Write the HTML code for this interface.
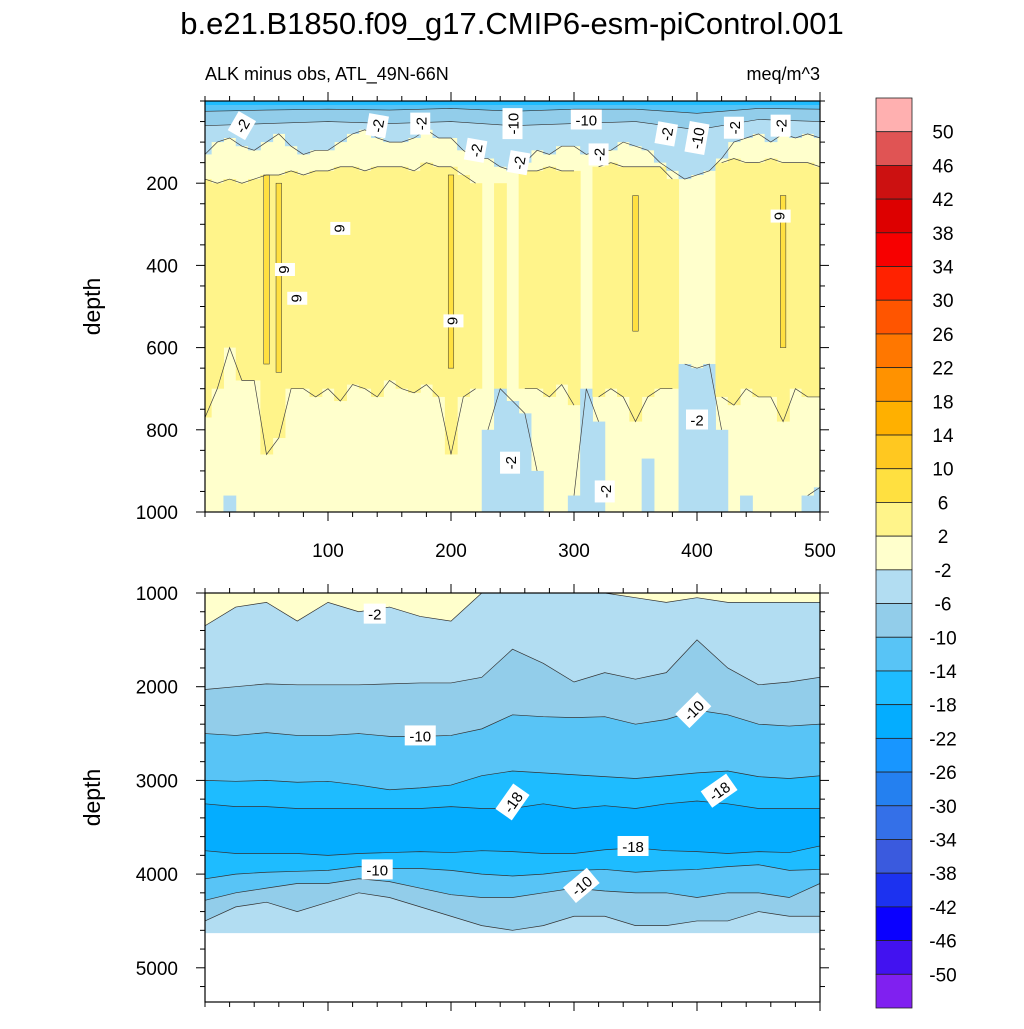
<!DOCTYPE html>
<html><head><meta charset="utf-8">
<style>
html,body{margin:0;padding:0;background:#fff;}
svg text{font-family:"Liberation Sans",Arial,sans-serif;fill:#000;}
</style></head>
<body>
<svg id="chart" width="1024" height="1024" viewBox="0 0 1024 1024" xmlns="http://www.w3.org/2000/svg">
<text x="512" y="34" font-size="31" text-anchor="middle">b.e21.B1850.f09_g17.CMIP6-esm-piControl.001</text>
<text x="205" y="80" font-size="18">ALK minus obs, ATL_49N-66N</text>
<text x="820" y="80" font-size="18" text-anchor="end">meq/m^3</text>
<g id="topPanel"></g>
<g id="botPanel"></g>
<g id="cbar"></g>
</svg>
<script>
// ---- data ----
const levels = [50,46,42,38,34,30,26,22,18,14,10,6,2,-2,-6,-10,-14,-18,-22,-26,-30,-34,-38,-42,-46,-50];
const bandColors = ["#ffb0b0","#e05454","#cc1111","#dd0000","#f70000","#ff2200","#ff5500","#ff7700","#ff9200","#ffb000","#ffc820","#ffe040","#fff48a","#ffffcc","#b2ddf2","#92cdea","#58c4f6","#1ebcff","#04adff","#1896ff","#2480f0","#3470e8","#3a5ade","#1c32f0","#0a00ff","#4212f0","#8020f0"];
const xTicks = [100,200,300,400,500];
const topDepthTicks = [200,400,600,800,1000];
const botDepthTicks = [1000,2000,3000,4000,5000];
// top panel, x every 10
const xsTop = [0,10,20,30,40,50,60,70,80,90,100,110,120,130,140,150,160,170,180,190,200,210,220,230,240,250,260,270,280,290,300,310,320,330,340,350,360,370,380,390,400,410,420,430,440,450,460,470,480,490,500];
const surfB = [130,100,90,110,120,100,80,110,130,120,120,100,80,70,90,100,100,90,70,90,90,120,140,140,160,170,150,120,130,110,110,130,120,120,100,110,120,150,170,190,180,170,140,100,90,80,100,80,90,80,90];
const ylTop = [190,200,190,200,190,180,180,170,180,170,170,160,160,170,160,160,160,170,150,160,160,180,200,0,200,0,170,170,160,170,170,0,160,150,160,160,160,160,190,0,0,0,150,140,150,150,140,150,150,150,160];
const ylBot = [770,700,600,680,680,860,820,700,700,720,700,730,690,700,720,680,700,710,690,720,860,720,700,0,740,0,700,700,720,690,740,0,720,700,720,780,720,700,700,0,0,0,720,740,700,720,720,780,700,720,720];
const dkTop = [0,0,0,0,0,180,200,0,0,0,0,0,0,0,0,0,0,0,0,0,180,0,0,0,0,0,0,0,0,0,0,0,0,0,0,230,0,0,0,0,0,0,0,0,0,0,0,230,0,0,0];
const dkBot = [0,0,0,0,0,640,660,0,0,0,0,0,0,0,0,0,0,0,0,0,650,0,0,0,0,0,0,0,0,0,0,0,0,0,0,560,0,0,0,0,0,0,0,0,0,0,0,600,0,0,0];
const blueDeepTop = [1000,1000,960,1000,1000,1000,1000,1000,1000,1000,1000,1000,1000,1000,1000,1000,1000,1000,1000,1000,1000,1000,1000,800,700,730,760,900,1000,1000,960,700,780,1000,1000,1000,870,1000,1000,640,650,640,800,1000,960,1000,1000,1000,1000,960,940];
// surface layers, x every 50
const xsSurf = [0,50,100,150,200,250,300,350,400,450,500];
const surf6 = [60,55,50,55,50,60,55,50,70,45,50];
const surf10 = [25,22,20,22,18,25,20,20,30,18,20];
// bottom panel, x every 25
const xsBot = [0,25,50,75,100,125,150,175,200,225,250,275,300,325,350,375,400,425,450,475,500];
const c2bot = [1350,1150,1100,1300,1100,1200,1150,1250,1300,1000,1000,1000,1000,1000,1050,1100,1050,1100,1100,1100,1100];
const c6top = [2030,2000,1970,1980,1980,1980,1970,1960,1960,1900,1600,1750,1950,1850,1920,1850,1500,1800,1980,1950,1900];
const c10top = [2500,2520,2490,2520,2520,2500,2530,2530,2520,2450,2300,2320,2330,2320,2400,2350,2250,2300,2400,2420,2400];
const c14top = [3000,3010,3000,3020,3010,3050,3100,3080,3050,2950,2900,2920,2940,2960,2980,2950,2920,2900,2960,2980,2950];
const c18top = [3250,3280,3280,3300,3300,3300,3300,3300,3280,3300,3300,3250,3300,3270,3300,3250,3220,3250,3300,3300,3300];
const c18bot = [3750,3780,3780,3780,3800,3780,3770,3760,3770,3750,3760,3780,3780,3740,3720,3750,3760,3780,3760,3770,3700];
const c14bot = [4050,4000,3980,3970,3960,3920,3940,3940,3960,4000,4020,4000,3960,3950,3980,3960,3950,3920,3900,3960,3950];
const c10bot = [4280,4200,4150,4100,4100,4050,4080,4150,4220,4250,4250,4200,4150,4180,4200,4200,4250,4200,4200,4250,4100];
const c6bot = [4500,4350,4300,4400,4300,4200,4250,4350,4450,4550,4600,4550,4450,4450,4550,4550,4500,4500,4400,4450,4450];
const dataBottomDepth = 4630;
// labels
const topLabels = [["-2",30,60,-60],["-2",140,60,-80],["-2",175,55,-90],["-10",250,55,-90],["-2",220,120,-80],["-10",310,45,0],["-2",255,150,-80],["-2",320,130,-90],["-2",375,80,-80],["-10",400,90,-80],["-2",430,65,-90],["-2",468,60,-90],["6",110,310,90],["6",65,410,90],["6",75,480,90],["6",202,535,90],["6",468,280,90],["-2",400,775,0],["-2",248,880,-90],["-2",325,950,-90]];
const botLabels = [["-2",138,1220,0],["-10",175,2520,0],["-10",397,2250,-45],["-18",250,3230,-55],["-18",418,3110,-35],["-18",348,3700,0],["-10",140,3950,0],["-10",306,4120,-40]];

// ---- scales ----
const X = v => 205 + v * 1.23;
const Yt = d => 101 + d * 0.411;
const Yb = d => 593 + (d - 1000) * 0.0937;
const NS = "http://www.w3.org/2000/svg";
function mk(tag, attrs, parent){const e=document.createElementNS(NS,tag);for(const k in attrs)e.setAttribute(k,attrs[k]);parent.appendChild(e);return e;}
const gTop = document.getElementById('topPanel'), gBot = document.getElementById('botPanel'), gCb = document.getElementById('cbar');
const C = i => bandColors[i];
const iPaleYel = 13, iYel = 12, iDkYel = 11, iB2 = 14, iB6 = 15, iB10 = 16, iB14 = 17, iB18 = 18;

// ---- top panel ----
let r = mk('rect',{x:205,y:101,width:615,height:411,fill:C(iPaleYel)},gTop);


function colX(i){const a=Math.max(0,xsTop[i]-5),b=Math.min(500,xsTop[i]+5);return [X(a),X(b)-X(a)];}
for(let i=0;i<xsTop.length;i++){
  const [cx,cw]=colX(i);
  let e=mk('rect',{x:cx,y:Yt(0),width:cw+0.5,height:Yt(surfB[i])-Yt(0),fill:C(iB2)},gTop);
  
  
  if(ylTop[i]>0){
    e=mk('rect',{x:cx,y:Yt(ylTop[i]),width:cw+0.5,height:Yt(ylBot[i])-Yt(ylTop[i]),fill:C(iYel)},gTop);
    
    
  }
  if(dkTop[i]>0){
    const w=cw*0.45;
    e=mk('rect',{x:cx+cw/2-w/2,y:Yt(dkTop[i]),width:w,height:Yt(dkBot[i])-Yt(dkTop[i]),fill:C(iDkYel),stroke:'#333','stroke-width':0.5},gTop);
    
    
  }
  if(blueDeepTop[i]<1000){
    e=mk('rect',{x:cx,y:Yt(blueDeepTop[i]),width:cw+0.5,height:Yt(1000)-Yt(blueDeepTop[i]),fill:C(iB2)},gTop);
    
    
  }
}
function areaFromTop(xs,ys,Yf,d0){let p=xs.map((x,i)=>X(x)+','+Yf(ys[i]));p.push(X(xs[xs.length-1])+','+Yf(d0));p.push(X(xs[0])+','+Yf(d0));return p.join(' ');}
let p=mk('polygon',{points:areaFromTop(xsSurf,surf6,Yt,0),fill:C(iB6),stroke:'#333','stroke-width':0.6},gTop);


p=mk('polygon',{points:areaFromTop(xsSurf,surf10,Yt,0),fill:C(iB10),stroke:'#333','stroke-width':0.6},gTop);


p=mk('rect',{x:205,y:101,width:615,height:4,fill:C(iB14)},gTop);


function segLines(arr,skip,name){
  let seg=[];
  const flush=()=>{if(seg.length>1){const l=mk('polyline',{points:seg.join(' '),fill:'none',stroke:'#444','stroke-width':0.7},gTop);}seg=[];};
  for(let i=0;i<xsTop.length;i++){if(skip(arr[i])){flush();continue;}seg.push(X(xsTop[i])+','+Yt(arr[i]));}
  flush();
}
segLines(surfB,v=>false,'contour-minus2-surface');
segLines(ylTop,v=>v===0,'contour-2-top');
segLines(ylBot,v=>v===0,'contour-2-bottom');
segLines(blueDeepTop,v=>v>=1000,'contour-minus2-deep');

// ---- bottom panel ----
r=mk('rect',{x:205,y:593,width:615,height:Yb(dataBottomDepth)-593,fill:C(iB2)},gBot);


function band(topArr,botArr,color,name){
  const pts=xsBot.map((x,i)=>X(x)+','+Yb(topArr[i]));
  for(let i=xsBot.length-1;i>=0;i--)pts.push(X(xsBot[i])+','+Yb(botArr[i]));
  const e=mk('polygon',{points:pts.join(' '),fill:color,stroke:'#333','stroke-width':0.7},gBot);
  
  
}
band(c6top,c6bot,C(iB6),'band-minus6');
band(c10top,c10bot,C(iB10),'band-minus10');
band(c14top,c14bot,C(iB14),'band-minus14');
band(c18top,c18bot,C(iB18),'band-minus18');
band(xsBot.map(()=>1000),c2bot,C(iPaleYel),'band-minus2-top');

// labels
function label(txt,x,y,rot,g,name){
  const gg=mk('g',{transform:`translate(${x},${y}) rotate(${rot})`},g);
  
  
  const w=txt.length*9+4;
  mk('rect',{x:-w/2,y:-10,width:w,height:20,fill:'#fff'},gg);
  const t=mk('text',{x:0,y:6,'font-size':15,'text-anchor':'middle'},gg);
  t.textContent=txt;
}
topLabels.forEach(l=>label(l[0],X(l[1]),Yt(l[2]),l[3],gTop,'contour-label'));
botLabels.forEach(l=>label(l[0],X(l[1]),Yb(l[2]),l[3],gBot,'contour-label'));

// axes
function axes(g,y0,y1,Yf,dticks,minorStep,dmin,dmax,xLabels){
  let f=mk('rect',{x:205,y:y0,width:615,height:y1-y0,fill:'none',stroke:'#000','stroke-width':1.2},g);
  
  
  for(let v=0;v<=500;v+=20){
    const maj=xTicks.includes(v), L=maj?9:5;
    mk('line',{x1:X(v),x2:X(v),y1:y1,y2:y1+L,stroke:'#000'},g);
    mk('line',{x1:X(v),x2:X(v),y1:y0,y2:y0-L,stroke:'#000'},g);
  }
  if(xLabels) xTicks.forEach(v=>{const t=mk('text',{x:X(v),y:y1+45,'font-size':19,'text-anchor':'middle'},g);t.textContent=v;});
  for(let d=dmin;d<=dmax;d+=minorStep){
    const maj=dticks.includes(d), L=maj?9:5, y=Yf(d);
    if(y<y0-0.5||y>y1+0.5)continue;
    mk('line',{x1:205,x2:205-L,y1:y,y2:y,stroke:'#000'},g);
    mk('line',{x1:820,x2:820+L,y1:y,y2:y,stroke:'#000'},g);
  }
  dticks.forEach(d=>{const t=mk('text',{x:178,y:Yf(d)+7,'font-size':19,'text-anchor':'end'},g);t.textContent=d;});
  const yl=mk('text',{x:0,y:0,'font-size':23,'text-anchor':'middle',transform:`translate(100,${(y0+y1)/2}) rotate(-90)`},g);
  yl.textContent='depth';
  
  
}
axes(gTop,101,512,Yt,topDepthTicks,50,0,1000,true);
axes(gBot,593,1002,Yb,botDepthTicks,200,1000,5400,false);

// colorbar
const cbTop=98, cbH=(1008-98)/bandColors.length;
bandColors.forEach((c,i)=>{
  const e=mk('rect',{x:876,y:cbTop+i*cbH,width:36,height:cbH,fill:c,stroke:'#222','stroke-width':0.8},gCb);
  
  
});
levels.forEach((lv,i)=>{
  const t=mk('text',{x:943,y:cbTop+(i+1)*cbH+7,'font-size':19,'text-anchor':'middle'},gCb);
  t.textContent=lv;
  
  
});
</script>
</body></html>
